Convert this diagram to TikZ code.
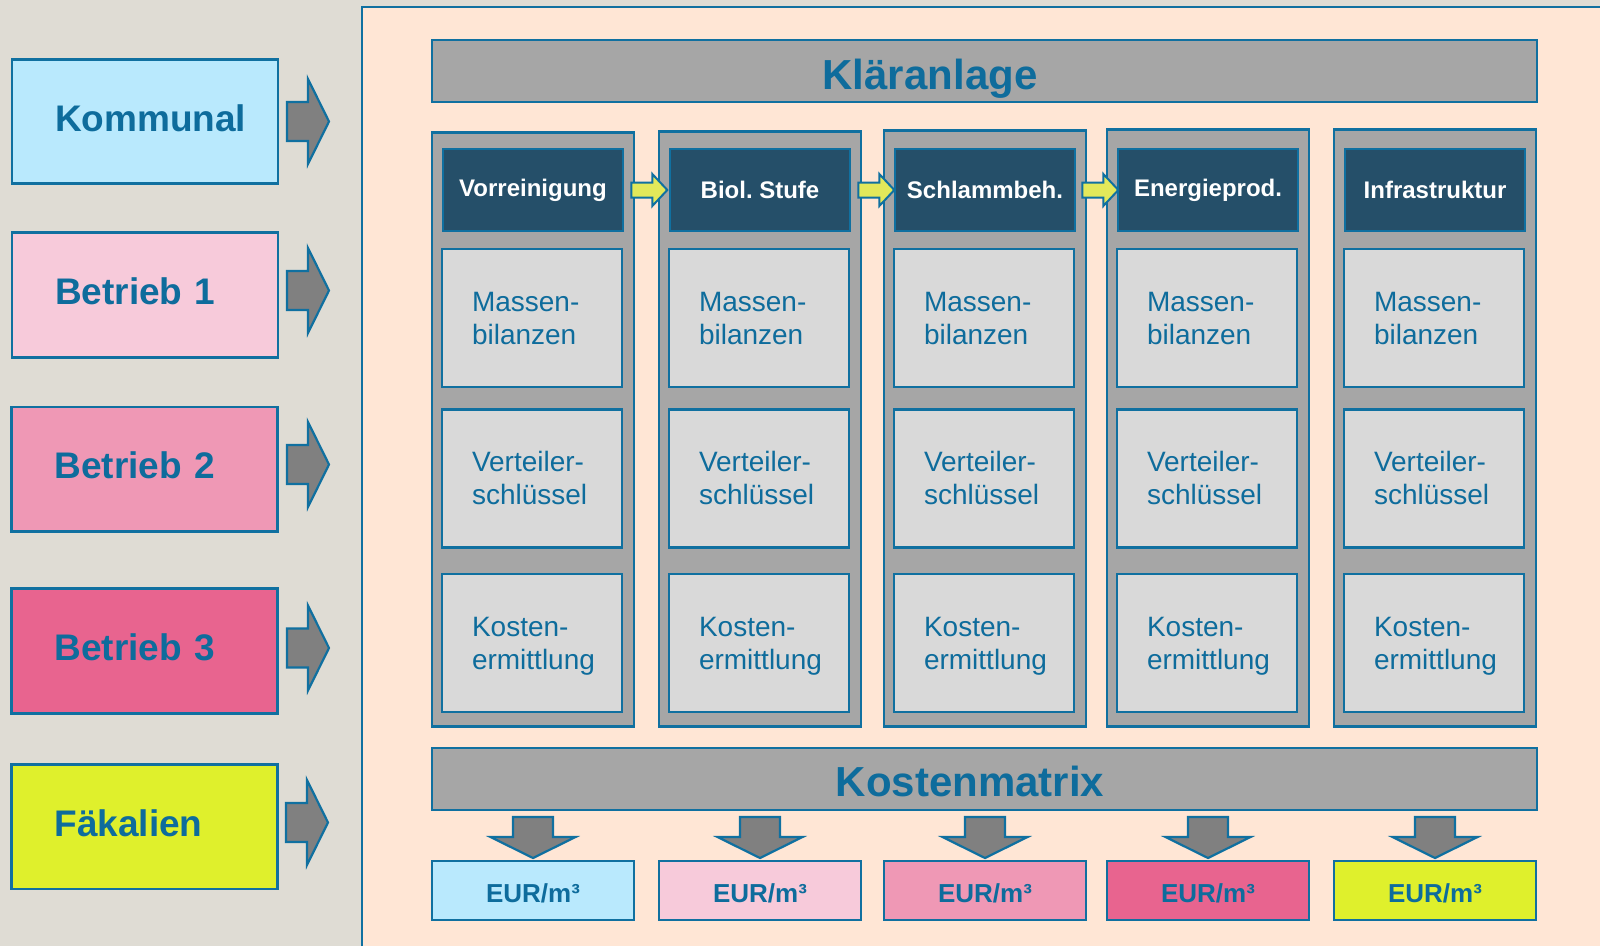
\documentclass[tikz,border=0pt]{standalone}
\usepackage{fontspec}
\setmainfont{Liberation Sans}
\frenchspacing
\hyphenpenalty=10000
\definecolor{bgL}{HTML}{DFDCD4}
\definecolor{peach}{HTML}{FFE6D5}
\definecolor{bline}{HTML}{1070A0}
\definecolor{btext}{HTML}{0E6C9C}
\definecolor{gbar}{HTML}{A6A6A6}
\definecolor{lgray}{HTML}{D9D9D9}
\definecolor{dhead}{HTML}{254F69}
\definecolor{garr}{HTML}{808080}
\definecolor{yarr}{HTML}{E3E85A}
\definecolor{cA}{HTML}{B9E9FD}
\definecolor{cB}{HTML}{F7CADA}
\definecolor{cC}{HTML}{EF98B5}
\definecolor{cD}{HTML}{E8648F}
\definecolor{cE}{HTML}{DFF02C}
\tikzset{
  lbox/.style={draw=bline, line width=2.8pt, text=btext, font=\bfseries\fontsize{37}{44}\selectfont, inner xsep=43pt, inner ysep=0pt, text width=180pt, align=left, minimum height=124.5pt, text height=19pt, text depth=0pt},
  colbox/.style={draw=bline, line width=2.6pt, fill=gbar, minimum width=202pt, anchor=north, inner sep=0pt},
  headbox/.style={draw=bline, line width=2.6pt, fill=dhead, minimum width=180pt, minimum height=82pt, text=white, font=\bfseries\fontsize{24}{28}\selectfont, inner sep=0pt},
  inbox/.style={draw=bline, line width=2.6pt, fill=lgray, minimum width=180pt, minimum height=138pt, text=btext, font=\fontsize{28}{33}\selectfont, align=left, inner ysep=0pt, inner xsep=30pt, text width=120pt, text height=20pt, text depth=34pt},
  bar/.style={draw=bline, line width=2.6pt, fill=gbar, minimum width=1105pt, minimum height=62pt, inner sep=0pt},
  bartext/.style={text=btext, font=\bfseries\fontsize{42}{50}\selectfont, inner sep=0pt},
  eurbox/.style={draw=bline, line width=2.6pt, minimum width=202pt, minimum height=59pt, text=btext, font=\bfseries\fontsize{26}{30}\selectfont, inner sep=0pt, text height=24.6pt, text depth=0pt},
  garrow/.style={fill=garr, draw=bline, line width=2.2pt},
  yarrow/.style={fill=yarr, draw=bline, line width=2pt},
  rarr/.pic={\path[garrow] (0,-19.5) -- (21,-19.5) -- (21,-42.5) -- (42,0) -- (21,42.5) -- (21,19.5) -- (0,19.5) -- cycle;},
  darr/.pic={\path[garrow] (-20,0) -- (20,0) -- (20,20) -- (42.5,20) -- (0,41) -- (-42.5,20) -- (-20,20) -- cycle;},
  yarr/.pic={\path[yarrow] (0,-7.5) -- (21,-7.5) -- (21,-16) -- (36,0) -- (21,16) -- (21,7.5) -- (0,7.5) -- cycle;}
}
\begin{document}
\begin{tikzpicture}[x=1pt,y=-1pt]
\useasboundingbox (0,0) rectangle (1600,946);
\fill[bgL] (0,0) rectangle (1600,946);
\fill[peach] (362,7) rectangle (1600,946);
\draw[bline, line width=2.8pt] (362,946) -- (362,7) -- (1600,7);

% left source boxes
\node[lbox, fill=cA, minimum width=266pt] (kom) at (145,121.5) {Kommunal};
\node[lbox, fill=cB, minimum width=266pt] (b1) at (145,295) {Betrieb 1};
\node[lbox, fill=cC, minimum width=266pt] (b2) at (144.5,469.3) {Betrieb 2};
\node[lbox, fill=cD, minimum width=266pt] (b3) at (144.5,651) {Betrieb 3};
\node[lbox, fill=cE, minimum width=266pt] (fk) at (144.5,826.8) {Fäkalien};

\pic at (287,121.5) {rarr};
\pic at (287,290.5) {rarr};
\pic at (287,464.5) {rarr};
\pic at (287,648) {rarr};
\pic at (286,822.5) {rarr};

% top bar
\node[bar] (kl) at (984.5,71) {};
\node[bartext, anchor=base] (klt) at (930,89) {Kläranlage};

% columns
\foreach \i/\x/\t/\hd/\fc in {1/533/131/Vorreinigung/cA, 2/760/130/Biol. Stufe/cB, 3/985/129/Schlammbeh./cC, 4/1208/128/Energieprod./cD, 5/1435/128/Infrastruktur/cE}{
  \node[colbox, minimum height={725-\t}] (c\i) at (\x,\t) {};
  \node[headbox] (h\i) at (\x,190) {\hd};
  \node[inbox] (m\i) at (\x-1,318) {Massen-\\bilanzen};
  \node[inbox] (v\i) at (\x-1,478.5) {Verteiler-\\schlüssel};
  \node[inbox] (k\i) at (\x-1,643) {Kosten-\\ermittlung};
  \pic at (\x,817) {darr};
  \node[eurbox, fill=\fc] (e\i) at (\x,890.5) {EUR/m³};
}

\pic at ([xshift=7pt]h1.east) {yarr};
\pic at ([xshift=7pt]h2.east) {yarr};
\pic at ([xshift=6pt]h3.east) {yarr};

% bottom bar
\node[bar] (km) at (984.5,779) {};
\node[bartext] (kmt) at (970,781) {Kostenmatrix};
\end{tikzpicture}
\end{document}
